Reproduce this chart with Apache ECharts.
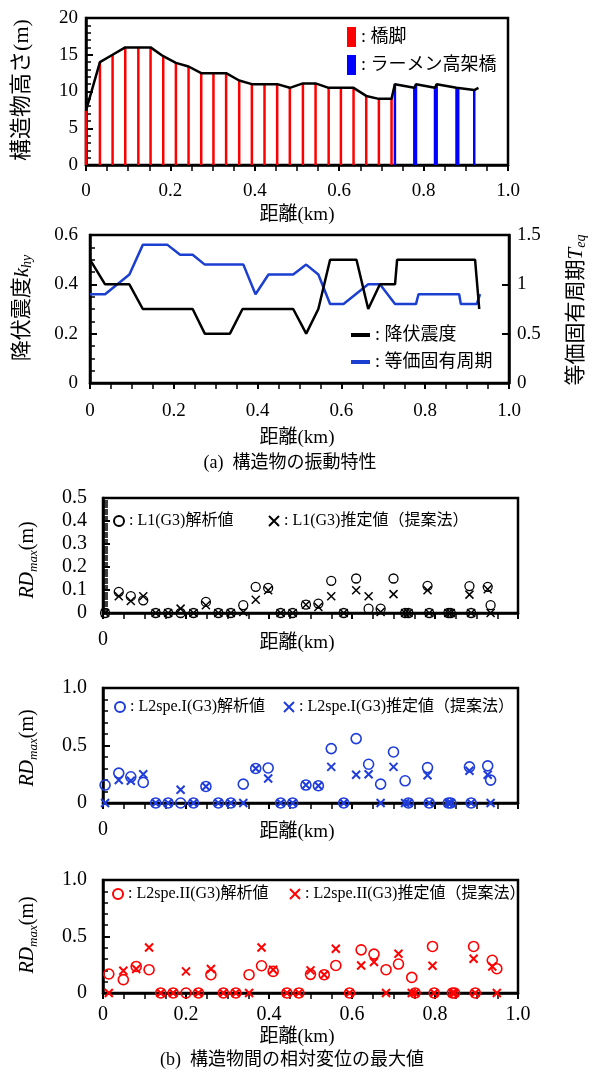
<!DOCTYPE html>
<html><head><meta charset="utf-8">
<script src="https://cdn.jsdelivr.net/npm/echarts@6/dist/echarts.min.js"></script>
<style>html,body{margin:0;padding:0;background:#fff}#c{width:592px;height:1074px}</style>
</head><body><div id="c"></div>
<script>
const FONT = "'Liberation Serif','Noto Sans CJK JP'";
// ---- (a) top: structure heights ----
const pierDistance = [0, 0.033, 0.063, 0.093, 0.124, 0.153, 0.183, 0.213, 0.243, 0.273, 0.302, 0.332, 0.363, 0.393, 0.423, 0.453, 0.483, 0.514, 0.544, 0.575, 0.604, 0.634, 0.664, 0.694, 0.724];
const pierHeight = [7.4, 14, 15, 16, 16, 16, 14.8, 13.9, 13.4, 12.5, 12.5, 12.5, 11.5, 11, 11, 11, 10.5, 11.1, 11.1, 10.5, 10.5, 10.5, 9.4, 9.0, 9.0];
const rahmenDistance = [0.732, 0.778, 0.782, 0.827, 0.831, 0.878, 0.882, 0.92];
const rahmenHeight = [11, 10.5, 11, 10.5, 11, 10.5, 10.5, 10.2];
const profileEndDistance = [0.93];
const profileEndHeight = [10.5];
const heightTickLabels = ['0', '5', '10', '15', '20'];
const distanceTickLabels = ['0', '0.2', '0.4', '0.6', '0.8', '1.0'];
// ---- (a) bottom: yield seismic coefficient & equivalent period ----
const yieldDistance = [0, 0.036, 0.094, 0.126, 0.245, 0.274, 0.334, 0.364, 0.485, 0.516, 0.545, 0.573, 0.636, 0.664, 0.692, 0.728, 0.733, 0.919, 0.929];
const yieldK = [0.5, 0.4, 0.4, 0.3, 0.3, 0.2, 0.2, 0.3, 0.3, 0.2, 0.3, 0.5, 0.5, 0.3, 0.4, 0.4, 0.5, 0.5, 0.3];
const periodDistance = [0, 0.036, 0.094, 0.126, 0.185, 0.215, 0.245, 0.274, 0.366, 0.395, 0.426, 0.485, 0.516, 0.545, 0.573, 0.605, 0.664, 0.692, 0.728, 0.778, 0.784, 0.881, 0.885, 0.923, 0.931];
const periodT = [0.9, 0.9, 1.1, 1.4, 1.4, 1.3, 1.3, 1.2, 1.2, 0.9, 1.1, 1.1, 1.2, 1.1, 0.8, 0.8, 1.0, 1.0, 0.8, 0.8, 0.9, 0.9, 0.8, 0.8, 0.9];
const kTickLabels = ['0', '0.2', '0.4', '0.6'];
const tTickLabels = ['0', '0.5', '1', '1.5'];
// ---- (b) relative displacement ----
const rdDistance = [0.005, 0.038, 0.067, 0.097, 0.127, 0.157, 0.187, 0.218, 0.248, 0.278, 0.308, 0.338, 0.368, 0.398, 0.428, 0.457, 0.489, 0.519, 0.55, 0.58, 0.61, 0.64, 0.669, 0.70, 0.728, 0.736, 0.782, 0.786, 0.832, 0.838, 0.883, 0.887, 0.927, 0.934];
const l1Analysis = [0, 0.092, 0.073, 0.055, 0, 0, 0, 0, 0.048, 0, 0, 0.034, 0.114, 0.109, 0, 0, 0.036, 0.041, 0.14, 0, 0.15, 0.019, 0.019, 0.15, 0, 0, 0.118, 0, 0, 0, 0.117, 0, 0.114, 0.034];
const l1Estimate = [0, 0.073, 0.052, 0.073, 0, 0, 0.019, 0, 0.034, 0, 0, 0.004, 0.058, 0.099, 0, 0, 0.036, 0.026, 0.073, 0, 0.099, 0.073, 0.004, 0.082, 0, 0, 0.099, 0, 0, 0, 0.080, 0, 0.103, 0];
const l2iAnalysis = [0.156, 0.26, 0.228, 0.179, 0, 0, 0, 0, 0.144, 0, 0, 0.164, 0.30, 0.305, 0, 0, 0.156, 0.15, 0.473, 0, 0.56, 0.337, 0.164, 0.444, 0.193, 0, 0.308, 0, 0, 0, 0.314, 0, 0.323, 0.199];
const l2iEstimate = [0, 0.20, 0.193, 0.25, 0, 0, 0.115, 0, 0.144, 0, 0, 0, 0.30, 0.213, 0, 0, 0.156, 0.15, 0.314, 0, 0.245, 0.25, 0, 0.314, 0, 0, 0.242, 0, 0, 0, 0.28, 0, 0.245, 0];
const rd2Distance = [0.014, 0.049, 0.080, 0.111, 0.139, 0.169, 0.200, 0.230, 0.260, 0.290, 0.320, 0.352, 0.382, 0.410, 0.443, 0.472, 0.500, 0.533, 0.561, 0.594, 0.622, 0.653, 0.682, 0.712, 0.744, 0.752, 0.794, 0.798, 0.842, 0.847, 0.893, 0.897, 0.938, 0.949];
const l2iiAnalysis = [0.168, 0.118, 0.235, 0.206, 0, 0, 0, 0, 0.162, 0, 0, 0.162, 0.241, 0.191, 0, 0, 0.165, 0.162, 0.244, 0, 0.382, 0.344, 0.206, 0.256, 0.138, 0, 0.412, 0, 0, 0, 0.412, 0, 0.29, 0.215];
const l2iiEstimate = [0, 0.197, 0.212, 0.403, 0, 0, 0.191, 0, 0.212, 0, 0, 0, 0.403, 0.206, 0, 0, 0.2, 0.162, 0.391, 0, 0.244, 0.274, 0, 0.347, 0, 0, 0.241, 0, 0, 0, 0.303, 0, 0.235, 0];
const rdSmallTickLabels = ['0', '0.1', '0.2', '0.3', '0.4', '0.5'];
const rdLargeTickLabels = ['0', '0.5', '1.0'];
const rdDistanceTickLabels = ['0'];

const zip = (xs, ys) => xs.map((x, i) => [x, ys[i]]);
const lab = (arr, step) => v => { const i = Math.round(v / step); return (Math.abs(v - i * step) < 1e-6 && arr[i] !== undefined) ? arr[i] : ''; };

const BLACK = '#000';
function xAxis(g, labels, margin, fs) {
  return {
    type: 'value', gridIndex: g, min: 0, max: 1, interval: 0.2,
    axisLine: { show: true, onZero: false, lineStyle: { color: BLACK, width: 2.5 } }, splitLine: { show: false },
    axisTick: { show: true, inside: false, length: 6, lineStyle: { color: BLACK, width: 2 } },
    minorTick: { show: true, splitNumber: 4, length: 6, lineStyle: { color: BLACK, width: 1.5 } },
    minorSplitLine: { show: false },
    axisLabel: { show: true, formatter: labels, margin: margin, fontSize: fs, color: BLACK, fontFamily: FONT }
  };
}
function yAxis(g, min, max, interval, minorSplit, labels, fs, margin, pos) {
  return {
    type: 'value', gridIndex: g, min: min, max: max, interval: interval, position: pos || 'left',
    axisLine: { show: true, onZero: false, lineStyle: { color: BLACK, width: 2.5 } }, splitLine: { show: false },
    axisTick: { show: true, inside: true, length: 7, lineStyle: { color: BLACK, width: 2 } },
    minorTick: { show: minorSplit > 0, splitNumber: minorSplit || 5, length: 5, lineStyle: { color: BLACK, width: 1.5 } },
    minorSplitLine: { show: false },
    axisLabel: { show: true, formatter: labels, margin: margin, fontSize: fs, color: BLACK, fontFamily: FONT }
  };
}
const circleSym = 'circle';
const crossSym = 'path://M0,0L10,10M10,0L0,10';
function scatter(name, xs, ys, g, sym, color, size, bw) {
  return { type: 'scatter', name: name, xAxisIndex: g, yAxisIndex: g + 1, data: zip(xs, ys), symbol: sym, symbolSize: size,
    itemStyle: { color: 'rgba(0,0,0,0)', borderColor: color, borderWidth: bw, opacity: 1 }, z: 5, silent: true };
}
function legendItem(name, left, top, size, fs) {
  return { data: [name], left: left, top: top, padding: 0, itemWidth: size, itemHeight: size, selectedMode: false,
    formatter: n => ': ' + n, textStyle: { fontSize: fs, fontFamily: FONT, color: BLACK } };
}
function text(x, y, t, fs, rot, rich) {
  const style = { text: t, x: 0, y: 0, fontSize: fs, fontFamily: FONT, fill: BLACK,
    align: 'center', verticalAlign: 'middle', textAlign: 'center', textVerticalAlign: 'middle' };
  if (rich) style.rich = rich;
  return { type: 'text', x: x, y: y, rotation: rot || 0, style: style, z: 10 };
}
const subRich = (fs) => ({
  c: { fontSize: fs, fontFamily: FONT, lineHeight: fs + 4 },
  i: { fontSize: fs, fontFamily: 'Liberation Serif', fontStyle: 'italic', lineHeight: fs + 4 },
  n: { fontSize: fs, fontFamily: 'Liberation Serif', lineHeight: fs + 4 },
  s: { fontSize: Math.round(fs * 0.65), fontFamily: 'Liberation Serif', fontStyle: 'italic', lineHeight: Math.round(fs * 0.65), verticalAlign: 'bottom' }
});
const R = Math.PI / 2;

const gridBase = { show: true, borderColor: BLACK, borderWidth: 2.5, backgroundColor: 'transparent', containLabel: false };
const option = {
  animation: false,
  backgroundColor: '#fff',
  textStyle: { fontFamily: FONT, color: BLACK },
  grid: [
    Object.assign({ left: 86, top: 18, width: 422, height: 147 }, gridBase),
    Object.assign({ left: 90, top: 235, width: 419, height: 148 }, gridBase),
    Object.assign({ left: 103, top: 498, width: 415, height: 115 }, gridBase),
    Object.assign({ left: 103, top: 688, width: 415, height: 115 }, gridBase),
    Object.assign({ left: 103, top: 880, width: 415, height: 113 }, gridBase)
  ],
  xAxis: [
    xAxis(0, lab(distanceTickLabels, 0.2), 17, 19),
    xAxis(1, lab(distanceTickLabels, 0.2), 19, 19),
    xAxis(2, lab(rdDistanceTickLabels, 0.2), 17, 20),
    xAxis(3, lab(rdDistanceTickLabels, 0.2), 17, 20),
    xAxis(4, lab(distanceTickLabels, 0.2), 12, 20)
  ],
  yAxis: [
    yAxis(0, 0, 20, 5, 5, lab(heightTickLabels, 5), 19, 8),
    yAxis(1, 0, 0.6, 0.2, 4, lab(kTickLabels, 0.2), 19, 12),
    yAxis(1, 0, 1.5, 0.5, 0, lab(tTickLabels, 0.5), 19, 8, 'right'),
    yAxis(2, 0, 0.5, 0.1, 10, lab(rdSmallTickLabels, 0.1), 20, 16),
    yAxis(3, 0, 1, 0.5, 5, lab(rdLargeTickLabels, 0.5), 20, 16),
    yAxis(4, 0, 1, 0.5, 5, lab(rdLargeTickLabels, 0.5), 20, 16)
  ],
  legend: [
    { data: ['橋脚', 'ラーメン高架橋'], orient: 'vertical', left: 347, top: 27, padding: 0, itemWidth: 9, itemHeight: 20, itemGap: 8,
      icon: 'rect', selectedMode: false, formatter: n => ': ' + n, textStyle: { fontSize: 18, fontFamily: FONT, color: BLACK } },
    { data: ['降伏震度', '等価固有周期'], orient: 'vertical', left: 351, top: 326, padding: 0, itemWidth: 19, itemHeight: 4, itemGap: 9,
      icon: 'rect', selectedMode: false, formatter: n => ': ' + n, textStyle: { fontSize: 18, fontFamily: FONT, color: BLACK } },
    legendItem('L1(G3)解析値', 113, 513, 10, 16),
    legendItem('L1(G3)推定値（提案法）', 268, 513, 10, 16),
    legendItem('L2spe.I(G3)解析値', 114, 699, 10, 16),
    legendItem('L2spe.I(G3)推定値（提案法）', 283, 699, 10, 16),
    legendItem('L2spe.II(G3)解析値', 112, 886, 10, 16),
    legendItem('L2spe.II(G3)推定値（提案法）', 289, 886, 10, 16)
  ],
  series: [
    { type: 'bar', name: '橋脚', xAxisIndex: 0, yAxisIndex: 0, data: zip(pierDistance, pierHeight), barWidth: 2.5, barGap: '-100%', itemStyle: { color: '#ff0000' }, silent: true },
    { type: 'bar', name: 'ラーメン高架橋', xAxisIndex: 0, yAxisIndex: 0, data: zip(rahmenDistance, rahmenHeight), barWidth: 2.5, barGap: '-100%', itemStyle: { color: '#0000ff' }, silent: true },
    { type: 'line', name: 'profile', xAxisIndex: 0, yAxisIndex: 0, showSymbol: false, symbol: 'none', z: 5,
      data: zip(pierDistance.concat(rahmenDistance, profileEndDistance), pierHeight.concat(rahmenHeight, profileEndHeight)),
      lineStyle: { color: BLACK, width: 2.5 }, itemStyle: { color: BLACK }, silent: true },
    { type: 'line', name: '降伏震度', xAxisIndex: 1, yAxisIndex: 1, symbol: 'none', data: zip(yieldDistance, yieldK),
      lineStyle: { color: BLACK, width: 2.5 }, itemStyle: { color: BLACK }, silent: true, z: 4 },
    { type: 'line', name: '等価固有周期', xAxisIndex: 1, yAxisIndex: 2, symbol: 'none', data: zip(periodDistance, periodT),
      lineStyle: { color: '#1b3fd1', width: 2.5 }, itemStyle: { color: '#1b3fd1' }, silent: true, z: 3 },
    scatter('L1(G3)解析値', rdDistance, l1Analysis, 2, circleSym, BLACK, 9, 1.3),
    scatter('L1(G3)推定値（提案法）', rdDistance, l1Estimate, 2, crossSym, BLACK, 8, 1.5),
    scatter('L2spe.I(G3)解析値', rdDistance, l2iAnalysis, 3, circleSym, '#1f3ddb', 10, 1.6),
    scatter('L2spe.I(G3)推定値（提案法）', rdDistance, l2iEstimate, 3, crossSym, '#1f3ddb', 8, 2),
    scatter('L2spe.II(G3)解析値', rd2Distance, l2iiAnalysis, 4, circleSym, '#ff0000', 10, 1.6),
    scatter('L2spe.II(G3)推定値（提案法）', rd2Distance, l2iiEstimate, 4, crossSym, '#ff0000', 8, 2)
  ],
  graphic: [
    text(22, 90, '構造物高さ(m)', 22, R),
    text(297, 215, '距離(km)', 19),
    text(22, 308, '{c|降伏震度}{i|k}{s|hy}', 21, R, subRich(21)),
    text(576, 310, '{c|等価固有周期}{i|T}{s|eq}', 21, R, subRich(21)),
    text(297, 438, '距離(km)', 19),
    text(290, 463, '(a)  構造物の振動特性', 18),
    text(28, 560, '{i|RD}{s|max}{n|(m)}', 20, R, subRich(20)),
    text(297, 643, '距離(km)', 19),
    text(28, 748, '{i|RD}{s|max}{n|(m)}', 20, R, subRich(20)),
    text(297, 832, '距離(km)', 19),
    text(28, 935, '{i|RD}{s|max}{n|(m)}', 20, R, subRich(20)),
    text(297, 1037, '距離(km)', 19),
    text(292, 1060, '(b)  構造物間の相対変位の最大値', 18)
  ]
};
const chart = echarts.init(document.getElementById('c'), null, { renderer: 'canvas' });
chart.setOption(option);
</script></body></html>
